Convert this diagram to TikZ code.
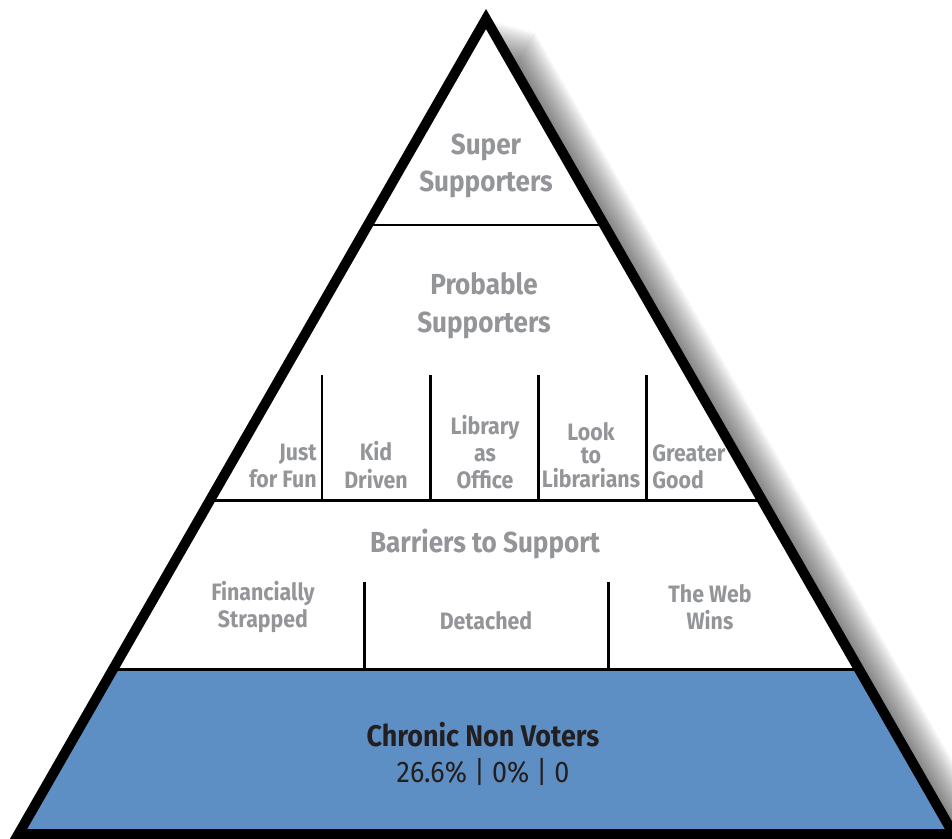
\documentclass[tikz,border=0pt]{standalone}
\usepackage{fontspec}
\setmainfont{Fira Sans}[FakeStretch=0.9]
\definecolor{labelgray}{RGB}{147,149,152}
\definecolor{voterblue}{RGB}{93,143,197}
\definecolor{darktext}{RGB}{35,31,32}

\begin{document}
\begin{tikzpicture}[x=0.02cm, y=-0.02cm]
% Define the styles
\tikzstyle{tier} = [font=\fontsize{16.5}{21.5}\selectfont\bfseries, text=labelgray, align=center, inner sep=0pt]
\tikzstyle{segment} = [font=\fontsize{13.5}{15.5}\selectfont\bfseries, text=labelgray, align=center, inner sep=0pt]
\tikzstyle{divider} = [draw=black, line width=1.7pt]
\tikzstyle{outline} = [draw=black, line width=5.7pt, line join=miter]

\useasboundingbox (0,0) rectangle (952,838);

% Define the corners
\coordinate (top) at (486,19);
\coordinate (bl) at (18.5,834);
\coordinate (br) at (953.5,834);

% Soft shadow on the right
\foreach \k in {1,...,16}
  \fill[black, opacity=0.045] (486+3*\k,19+0.8*\k) -- (953.5+3*\k,834+0.8*\k) -- (18.5+3*\k,834+0.8*\k) -- cycle;

% Tiers
\fill[white] (top) -- (br) -- (bl) -- cycle;
\begin{scope}
\clip (top) -- (br) -- (bl) -- cycle;
\fill[voterblue] (0,669) rectangle (960,840);
\draw[divider] (0,225) -- (960,225);
\draw[divider] (0,500) -- (960,500);
\draw[divider] (0,669) -- (960,669);
\end{scope}

% Segment dividers
\foreach \x in {322,430,538,646}
  \draw[divider] (\x,375) -- (\x,500);
\foreach \x in {364,608}
  \draw[divider] (\x,582) -- (\x,669);

\draw[outline] (top) -- (br) -- (bl) -- cycle;

% Define the labels
\node[tier] (super) at (486,166) {Super\\Supporters};
\node[tier] (probable) at (484,306) {Probable\\Supporters};
\node[segment, anchor=east, align=right] (fun) at (317,466) {Just\\for Fun};
\node[segment] (kid) at (376,465) {Kid\\Driven};
\node[segment] (office) at (485,452) {Library\\as\\Office};
\node[segment] (look) at (591,455) {Look\\[-2pt]to\\[-2pt]Librarians};
\node[segment, anchor=west, align=left] (greater) at (652,467) {Greater\\Good};
\node[tier] (barriers) at (485,544) {Barriers to Support};
\node[segment] (strapped) at (263,607) {Financially\\Strapped};
\node[segment] (detached) at (486,621) {Detached};
\node[segment] (web) at (710,607) {The Web\\Wins};
\node[tier, text=darktext, font=\fontsize{17}{21.5}\selectfont\bfseries] (chronic) at (483,735) {Chronic Non Voters};
\node[tier, text=darktext, font=\fontsize{17}{21.5}\selectfont] (share) at (483,772) {26.6\% | 0\% | 0};

\end{tikzpicture}
\end{document}
